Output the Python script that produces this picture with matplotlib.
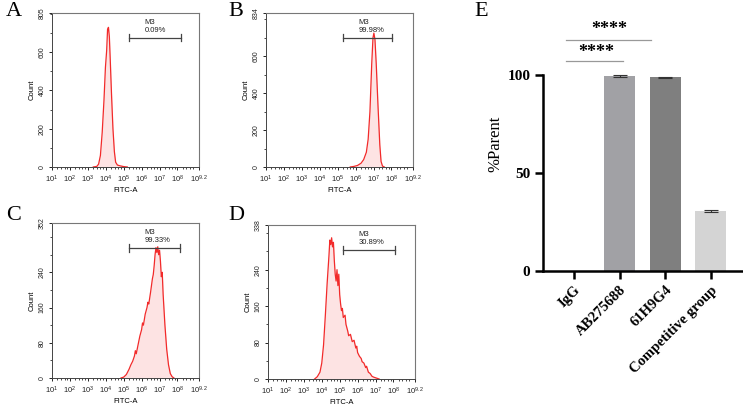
import matplotlib
matplotlib.use('Agg')
import matplotlib.pyplot as plt
from matplotlib.ticker import AutoMinorLocator, FixedLocator

plt.rcParams['font.family'] = ['Liberation Sans', 'DejaVu Sans']
plt.rcParams['mathtext.fontset'] = 'custom'
plt.rcParams['mathtext.rm'] = 'Liberation Sans'
plt.rcParams['mathtext.it'] = 'Liberation Sans'

# histogram data: FITC-A as log10 exponent, count
a_exp = [3.3, 3.5, 3.6, 3.7, 3.8, 3.9, 3.98, 4.05, 4.1, 4.15, 4.2, 4.25, 4.32, 4.4, 4.48, 4.55, 4.65, 4.8, 5.0, 5.2]
a_cnt = [0, 3, 15, 60, 180, 350, 520, 610, 720, 730, 680, 560, 380, 200, 80, 25, 10, 6, 2, 0]

b_exp = [5.7, 5.9, 6.1, 6.3, 6.45, 6.6, 6.7, 6.8, 6.9, 6.97, 7.02, 7.08, 7.15, 7.25, 7.35, 7.42, 7.5, 7.6]
b_cnt = [0, 3, 8, 20, 40, 80, 150, 300, 560, 700, 725, 690, 560, 330, 120, 30, 5, 0]

c_exp = [4.85, 5.0, 5.15, 5.3, 5.4, 5.5, 5.6, 5.65, 5.7, 5.8, 5.9, 6.0, 6.05, 6.1, 6.2, 6.3, 6.35, 6.4,
         6.5, 6.6, 6.65, 6.7, 6.75, 6.8, 6.85, 6.9, 6.95, 7.0, 7.05, 7.1, 7.15, 7.2, 7.3, 7.4, 7.5, 7.6, 7.7, 7.8]
c_cnt = [0, 2, 8, 20, 30, 38, 50, 62, 55, 75, 95, 110, 125, 120, 145, 160, 172, 168,
         195, 225, 235, 255, 280, 296, 285, 298, 280, 290, 265, 230, 240, 190, 120, 65, 30, 10, 3, 0]

d_exp = [3.6, 3.75, 3.9, 4.0, 4.1, 4.2, 4.3, 4.4, 4.45, 4.5, 4.55, 4.6, 4.65, 4.7, 4.75, 4.8, 4.85, 4.9,
         4.95, 5.0, 5.05, 5.1, 5.15, 5.2, 5.3, 5.35, 5.45, 5.5, 5.6, 5.7, 5.8, 5.9, 5.95, 6.0, 6.1, 6.2,
         6.25, 6.35, 6.45, 6.5, 6.6, 6.7, 6.8, 6.9, 7.05, 7.2]
d_cnt = [0, 5, 15, 35, 75, 140, 210, 270, 305, 295, 310, 290, 300, 260, 230, 215, 240, 205,
         230, 185, 165, 150, 155, 135, 140, 120, 105, 95, 98, 82, 85, 68, 72, 58, 50, 45,
         38, 35, 25, 28, 15, 12, 6, 4, 2, 0]

y_max = [805, 834, 352, 338]
y_step = [200, 200, 80, 80]
m3_pct = ['0.09%', '99.98%', '99.33%', '30.89%']
m3_range = [(5.3, 8.2), (5.3, 8.05), (5.3, 8.15), (5.2, 8.1)]

# bar chart data
groups = ['IgG', 'AB275688', '61H9G4', 'Competitive group']
parent = [0.09, 99.5, 98.8, 30.6]
parent_err = [0.0, 0.5, 0.3, 0.4]
bar_colors = ['#ffffff', '#a1a1a5', '#7f7f7f', '#d4d4d4']

fig = plt.figure(figsize=(7.43, 4.05), dpi=100)

hist_pos = [[0.0700, 0.5877, 0.1978, 0.3802],
            [0.3580, 0.5877, 0.1978, 0.3802],
            [0.0700, 0.0667, 0.1978, 0.3827],
            [0.3607, 0.0642, 0.1978, 0.3802]]
hist_data = [(a_exp, a_cnt), (b_exp, b_cnt), (c_exp, c_cnt), (d_exp, d_cnt)]

for i in range(4):
    ax = fig.add_axes(hist_pos[i])
    xe, yc = hist_data[i]
    ax.fill_between(xe, yc, color='#fde3e3', lw=0)
    ax.plot(xe, yc, color='#f22a2a', lw=0.9)
    ax.set_xlim(1, 9.2)
    ax.set_ylim(0, y_max[i])
    xt = [1, 2, 3, 4, 5, 6, 7, 8, 9.2]
    ax.set_xticks(xt)
    ax.set_xticklabels(['$10^{%g}$' % t for t in xt], fontsize=5.5, color='#222222')
    ax.xaxis.set_minor_locator(FixedLocator([k + f for k in range(1, 9) for f in (0.3, 0.5, 0.7, 0.85)]))
    yt = list(range(0, y_max[i] - y_step[i] // 2, y_step[i])) + [y_max[i]]
    ax.set_yticks(yt)
    ax.set_yticklabels([str(t) for t in yt], fontsize=5, rotation=90, va='center', color='#222222')
    ax.yaxis.set_minor_locator(AutoMinorLocator(2))
    ax.tick_params(length=2.5, width=0.6, pad=2)
    ax.tick_params(which='minor', length=1.5, width=0.5)
    for s in ['top', 'right']:
        ax.spines[s].set_color('#777777')
        ax.spines[s].set_linewidth(0.8)
    for s in ['left', 'bottom']:
        ax.spines[s].set_color('#444444')
        ax.spines[s].set_linewidth(0.7)
    ax.set_xlabel('FITC-A', fontsize=5.5, labelpad=2)
    ax.set_ylabel('Count', fontsize=5.5, labelpad=2)
    # M3 gate marker
    x0, x1 = m3_range[i]
    yb = 0.84 * y_max[i]
    ax.plot([x0, x1], [yb, yb], color='#444444', lw=0.9)
    ax.plot([x0, x0], [yb - 0.025 * y_max[i], yb + 0.025 * y_max[i]], color='#444444', lw=0.9)
    ax.plot([x1, x1], [yb - 0.025 * y_max[i], yb + 0.025 * y_max[i]], color='#444444', lw=0.9)
    ax.text(x0 + 0.85, yb + 0.1 * y_max[i], 'M3', fontsize=5.5, va='center', color='#222222')
    ax.text(x0 + 0.85, yb + 0.045 * y_max[i], m3_pct[i], fontsize=5.5, va='center', color='#222222')

serif = ['Liberation Serif', 'DejaVu Serif']
letters = [('A', 14, 12), ('B', 236, 12), ('C', 14, 215), ('D', 236, 215), ('E', 481, 12)]
for t, px, py in letters:
    fig.text(px / 743, 1 - py / 405, t, fontsize=16, family=serif, ha='center', va='center')

# panel E bar chart
axe = fig.add_axes([0.7308, 0.3309, 0.2678, 0.6296])
xpos = list(range(len(groups)))
axe.bar(xpos, parent, width=0.68, color=bar_colors, edgecolor='none')
axe.errorbar(xpos[1:], parent[1:], yerr=parent_err[1:], fmt='none', ecolor='#333333',
             elinewidth=0.8, capsize=5, capthick=0.8)
axe.set_xlim(-0.68, 3.68)
axe.set_ylim(0, 130)
axe.spines['left'].set_bounds(0, 100)
for s in ['top', 'right']:
    axe.spines[s].set_visible(False)
for s in ['left', 'bottom']:
    axe.spines[s].set_linewidth(1.8)
axe.set_yticks([0, 50, 100])
axe.set_yticklabels(['0', '50', '100'], fontsize=11, fontweight='bold', family=serif)
axe.set_xticks(xpos)
axe.set_xticklabels(groups, fontsize=10.5, fontweight='bold', family=serif, rotation=45,
                    ha='right', rotation_mode='anchor')
axe.tick_params(length=6, width=1.8, pad=3)
axe.set_ylabel('%Parent', fontsize=12, family=serif, labelpad=3)

# significance lines
axe.plot([-0.18, 1.07], [107, 107], color='#999999', lw=0.9, clip_on=False)
axe.text(0.48, 111.5, '****', fontsize=13, fontweight='bold', family=serif, ha='center', va='center')
axe.plot([-0.18, 1.69], [118, 118], color='#999999', lw=0.9, clip_on=False)
axe.text(0.78, 123, '****', fontsize=13, fontweight='bold', family=serif, ha='center', va='center')

fig.savefig('out.png', dpi=100)
